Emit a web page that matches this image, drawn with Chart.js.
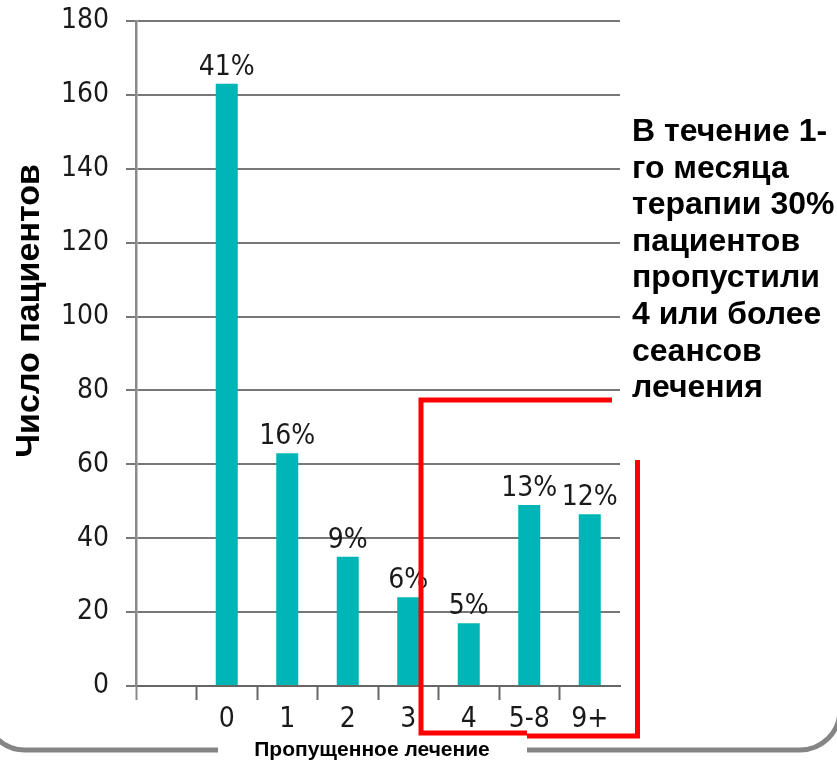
<!DOCTYPE html>
<html><head><meta charset="utf-8">
<script src="https://cdn.jsdelivr.net/npm/chart.js@4.4.1/dist/chart.umd.min.js"></script>
<style>
html,body{margin:0;padding:0;background:#fff;}
#wrap{position:relative;width:837px;height:760px;overflow:hidden;}
#c{position:absolute;left:0;top:0;}
#note{position:absolute;left:632px;top:112px;font:bold 32px 'Liberation Sans',Arial,sans-serif;line-height:36.6px;color:#000;white-space:nowrap;}
</style></head><body>
<div id="wrap"><canvas id="c" width="837" height="760"></canvas>
<div id="note">В течение 1-<br>го месяца<br>терапии 30%<br>пациентов<br>пропустили<br>4 или более<br>сеансов<br>лечения</div></div>
<script>
// ---- data ----
const categories = ['', '0', '1', '2', '3', '4', '5-8', '9+'];
const patients = [null, 163, 63, 35, 24, 17, 49, 46.5];
const shareLabels = ['', '41%', '16%', '9%', '6%', '5%', '13%', '12%'];
const yMin = 0, yMax = 180, yStep = 20;
const yTitle = 'Число пациентов';
const xTitle = 'Пропущенное лечение';

const condensed = "'Liberation Sans Narrow','DejaVu Sans Condensed',sans-serif";
const boldSans = "'Liberation Sans',Arial,sans-serif";

const decor = {
  id: 'decor',
  beforeDraw(chart) {
    const ctx = chart.ctx;
    ctx.save();
    ctx.fillStyle = '#fff';
    ctx.fillRect(0, 0, chart.width, chart.height);
    ctx.strokeStyle = '#858585';
    ctx.lineWidth = 5;
    ctx.beginPath();
    ctx.roundRect(-15, -100, 855, 850, 40);
    ctx.stroke();
    ctx.fillStyle = '#fff';
    ctx.fillRect(218, 738, 309, 22);
    ctx.restore();
  },
  afterDatasetsDraw(chart) {
    const ctx = chart.ctx;
    const meta = chart.getDatasetMeta(0);
    ctx.save();
    ctx.font = '28px ' + condensed;
    ctx.fillStyle = '#1a1a1a';
    ctx.textAlign = 'center';
    ctx.textBaseline = 'alphabetic';
    meta.data.forEach((bar, i) => {
      if (patients[i] == null) return;
      ctx.fillText(shareLabels[i], bar.x, bar.y - 9);
    });
    ctx.restore();

    // axis titles
    ctx.save();
    ctx.fillStyle = '#000';
    ctx.textAlign = 'center';
    ctx.textBaseline = 'middle';
    ctx.font = 'bold 21px ' + boldSans;
    ctx.fillText(xTitle, 372, 750);
    ctx.translate(30, 311);
    ctx.rotate(-Math.PI / 2);
    ctx.font = 'bold 34px ' + boldSans;
    ctx.fillText(yTitle, 0, 0);
    ctx.restore();

    // red highlight frame
    ctx.save();
    ctx.strokeStyle = '#ff0000';
    ctx.lineWidth = 5;
    ctx.lineJoin = 'miter';
    ctx.beginPath();
    ctx.moveTo(612, 400);
    ctx.lineTo(421, 400);
    ctx.lineTo(421, 733);
    ctx.lineTo(527, 733);
    ctx.stroke();
    ctx.beginPath();
    ctx.moveTo(527, 736);
    ctx.lineTo(637.5, 736);
    ctx.lineTo(637.5, 460);
    ctx.stroke();
    ctx.restore();
  }
};

new Chart(document.getElementById('c'), {
  type: 'bar',
  data: {
    labels: categories,
    datasets: [{
      data: patients,
      backgroundColor: '#00b5b5',
      borderWidth: 0,
      barPercentage: 0.364,
      categoryPercentage: 1
    }]
  },
  options: {
    responsive: false,
    animation: false,
    devicePixelRatio: 1,
    layout: { autoPadding: false, padding: { left: 0, right: 217, top: 21, bottom: 0 } },
    plugins: { legend: { display: false }, tooltip: { enabled: false } },
    scales: {
      x: {
        afterFit(s) { s.height = 74; s.paddingLeft = 0; s.paddingRight = 0; },
        grid: {
          offset: true,
          drawOnChartArea: false,
          drawTicks: true,
          tickLength: 14,
          tickWidth: 2,
          tickColor: c => c.type === 'tick' ? (c.index === 0 ? '#8a8a8a' : '#666') : 'rgba(0,0,0,0)'
        },
        border: { display: true, color: '#666', width: 2 },
        ticks: { color: '#1a1a1a', padding: 3, font: { family: condensed, size: 28 }, maxRotation: 0, autoSkip: false },
        title: { display: false }
      },
      y: {
        min: yMin, max: yMax,
        afterFit(s) { s.width = 136; s.paddingTop = 0; s.paddingBottom = 0; },
        grid: { color: '#777', lineWidth: 2, drawTicks: true, tickLength: 10 },
        border: { display: true, color: '#8a8a8a', width: 2.5 },
        ticks: { stepSize: yStep, color: '#1a1a1a', padding: 17, font: { family: condensed, size: 28 } }
      }
    }
  },
  plugins: [decor]
});
</script>
</body></html>
